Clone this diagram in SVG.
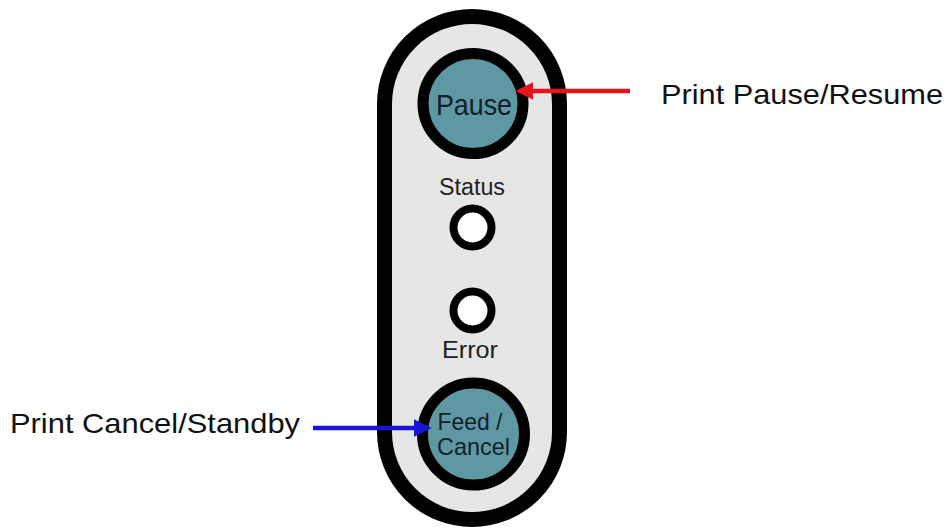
<svg xmlns="http://www.w3.org/2000/svg" width="951" height="531" viewBox="0 0 951 531">
<style>
.lbl{font-family:"Liberation Sans",Arial,sans-serif;fill:#111;font-size:28px}
.btn{fill:#5e98a3;stroke:#000;stroke-width:11}
.btxt{font-family:"Liberation Sans",Arial,sans-serif;fill:#13202c;text-anchor:middle}
.led{fill:#fff;stroke:#000;stroke-width:8}
.ltxt{font-family:"Liberation Sans",Arial,sans-serif;fill:#222;text-anchor:middle}
</style>
<defs>
<marker id="ahR" markerWidth="4" markerHeight="4" refX="3.2" refY="2" orient="auto" markerUnits="strokeWidth"><path d="M0,0 L4,2 L0,4 Z" fill="#e8141b"/></marker>
<marker id="ahB" markerWidth="4" markerHeight="4" refX="3.2" refY="2" orient="auto" markerUnits="strokeWidth"><path d="M0,0 L4,2 L0,4 Z" fill="#1515d8"/></marker>
</defs>
<rect width="951" height="531" fill="#fff"/>
<g id="panel">
<rect x="384.5" y="16.5" width="175" height="503" rx="87.5" ry="87.5" fill="#e6e6e6" stroke="#000" stroke-width="15"/>
</g>
<g id="pause">
<circle class="btn" cx="473" cy="103.5" r="50"/>
<text class="btxt" x="474" y="115" font-size="30" textLength="76" lengthAdjust="spacingAndGlyphs">Pause</text>
</g>
<g id="status">
<text class="ltxt" x="472" y="195" font-size="23" textLength="66" lengthAdjust="spacingAndGlyphs">Status</text>
<circle class="led" cx="472.5" cy="227.5" r="19"/>
</g>
<g id="error">
<circle class="led" cx="472.5" cy="310.5" r="19"/>
<text class="ltxt" x="470" y="358" font-size="24" textLength="56" lengthAdjust="spacingAndGlyphs">Error</text>
</g>
<g id="feed">
<circle class="btn" cx="473.5" cy="434" r="51"/>
<text class="btxt" x="470" y="430" font-size="24" textLength="65" lengthAdjust="spacingAndGlyphs">Feed /</text>
<text class="btxt" x="473.5" y="455" font-size="24" textLength="73" lengthAdjust="spacingAndGlyphs">Cancel</text>
</g>
<g id="connectors">
<line x1="630" y1="91" x2="519" y2="91" stroke="#e8141b" stroke-width="4.5" marker-end="url(#ahR)"/>
<line x1="313" y1="428" x2="428" y2="428" stroke="#1515d8" stroke-width="4.5" marker-end="url(#ahB)"/>
</g>
<g id="labels">
<text class="lbl" x="661" y="104" textLength="282" lengthAdjust="spacingAndGlyphs">Print Pause/Resume</text>
<text class="lbl" x="10" y="433" textLength="290" lengthAdjust="spacingAndGlyphs">Print Cancel/Standby</text>
</g>
</svg>
